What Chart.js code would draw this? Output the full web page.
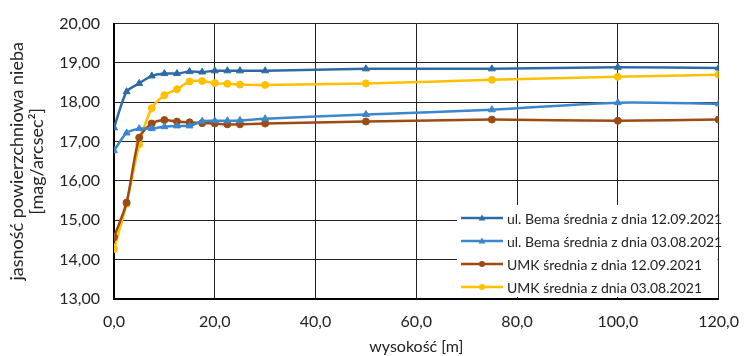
<!DOCTYPE html>
<html>
<head>
<meta charset="utf-8">
<script src="https://cdn.jsdelivr.net/npm/chart.js@4"></script>
<style>
  html, body { margin: 0; padding: 0; background: #fff; }
  #wrap { width: 752px; height: 356px; }
</style>
</head>
<body>
<div id="wrap"><canvas id="chart" width="752" height="356"></canvas></div>
<script>
// heights in metres
const heights = [0, 2.5, 5, 7.5, 10, 12.5, 15, 17.5, 20, 22.5, 25, 30, 50, 75, 100, 120];

// sky brightness, mag/arcsec^2
const bema1209 = [17.35, 18.27, 18.48, 18.67, 18.73, 18.73, 18.78, 18.77, 18.80, 18.80, 18.80, 18.80, 18.85, 18.85, 18.89, 18.87];
const bema0308 = [16.77, 17.22, 17.33, 17.33, 17.38, 17.40, 17.40, 17.52, 17.53, 17.53, 17.54, 17.58, 17.69, 17.81, 17.99, 17.96];
const umk1209 = [14.57, 15.45, 17.10, 17.46, 17.55, 17.51, 17.49, 17.47, 17.46, 17.44, 17.44, 17.46, 17.51, 17.56, 17.53, 17.56];
const umk0308 = [14.27, 15.42, 16.93, 17.85, 18.18, 18.33, 18.53, 18.54, 18.49, 18.47, 18.45, 18.44, 18.48, 18.57, 18.65, 18.70];

const labels = [
    'ul. Bema średnia z dnia 12.09.2021',
    'ul. Bema średnia z dnia 03.08.2021',
    'UMK średnia z dnia 12.09.2021',
    'UMK średnia z dnia 03.08.2021'
];

const FONT = 'Lato, "Open Sans", sans-serif';

function toPoints(ys) {
    return heights.map((x, i) => ({ x: x, y: ys[i] }));
}

function makeSet(label, ys, color, style, r) {
    return {
        label: label,
        data: toPoints(ys),
        borderColor: color,
        backgroundColor: color,
        borderWidth: 2.5,
        pointStyle: style,
        pointRadius: r,
        pointBorderWidth: 1,
        tension: 0.25,
        fill: false
    };
}

// legend drawn inside the plot, lower right
const insideLegend = {
    id: 'insideLegend',
    afterDatasetsDraw(chart) {
        const ctx = chart.ctx;
        const area = chart.chartArea;
        const x0 = 457, y0 = 205;
        ctx.save();
        ctx.fillStyle = '#fff';
        ctx.fillRect(x0, y0, area.right - x0 - 1, area.bottom - y0 - 2);
        ctx.font = '14px ' + FONT;
        ctx.textBaseline = 'middle';
        chart.data.datasets.forEach((ds, i) => {
            const y = 218 + i * 23;
            ctx.strokeStyle = ds.borderColor;
            ctx.lineWidth = 2.5;
            ctx.beginPath();
            ctx.moveTo(461, y);
            ctx.lineTo(503, y);
            ctx.stroke();
            ctx.fillStyle = ds.borderColor;
            ctx.beginPath();
            if (ds.pointStyle === 'triangle') {
                ctx.moveTo(482, y - 3.5);
                ctx.lineTo(485.5, y + 2.5);
                ctx.lineTo(478.5, y + 2.5);
            } else {
                ctx.arc(482, y, 3, 0, Math.PI * 2);
            }
            ctx.fill();
            ctx.fillStyle = '#222';
            ctx.fillText(ds.label, 507, y + 1);
        });
        ctx.restore();
    }
};

const ctx = document.getElementById('chart').getContext('2d');
new Chart(ctx, {
    type: 'line',
    data: {
        datasets: [
            makeSet(labels[0], bema1209, '#2E6BA6', 'triangle', 4),
            makeSet(labels[1], bema0308, '#3D86CC', 'triangle', 4),
            makeSet(labels[2], umk1209, '#9E4A14', 'circle', 3.5),
            makeSet(labels[3], umk0308, '#FFC000', 'circle', 3.5)
        ]
    },
    options: {
        responsive: false,
        animation: false,
        layout: { padding: { left: 0, right: 26, top: 19, bottom: 0 } },
        plugins: {
            legend: { display: false },
            tooltip: { enabled: false }
        },
        scales: {
            x: {
                type: 'linear',
                min: 0,
                max: 120,
                ticks: {
                    stepSize: 20,
                    color: '#222',
                    font: { family: FONT, size: 16 },
                    padding: 13,
                    callback: v => v.toFixed(1).replace('.', ',')
                },
                grid: { color: '#222', lineWidth: 1, drawTicks: false },
                border: { color: '#000', width: 2 },
                title: {
                    display: true,
                    text: 'wysokość [m]',
                    color: '#222',
                    font: { family: FONT, size: 16 },
                    padding: { top: 0, bottom: 0 }
                },
                afterFit(scale) { scale.height = 57; }
            },
            y: {
                min: 13,
                max: 20,
                ticks: {
                    stepSize: 1,
                    color: '#222',
                    font: { family: FONT, size: 16 },
                    padding: 14,
                    callback: v => v.toFixed(2).replace('.', ',')
                },
                grid: { color: '#222', lineWidth: 1, drawTicks: false },
                border: { color: '#000', width: 2 },
                title: {
                    display: true,
                    text: ['jasność powierzchniowa nieba', '[mag/arcsec²]'],
                    color: '#222',
                    font: { family: FONT, size: 18, lineHeight: 1.1 },
                    padding: { top: 7, bottom: 4 }
                },
                afterFit(scale) { scale.width = 114; }
            }
        }
    },
    plugins: [insideLegend]
});
</script>
</body>
</html>
